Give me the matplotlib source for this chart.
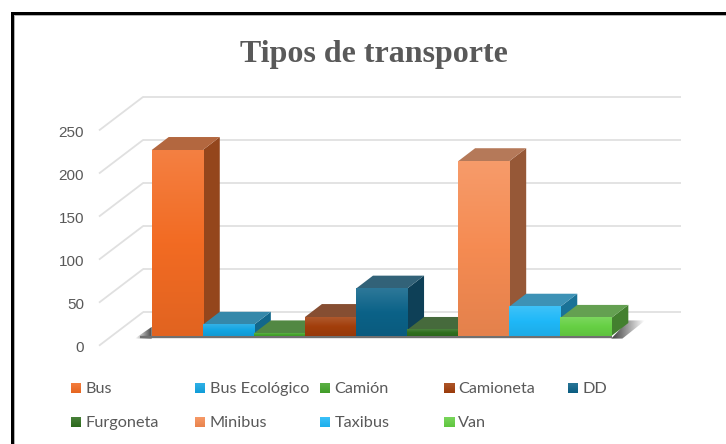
import numpy as np
import matplotlib
matplotlib.use("Agg")
import matplotlib.pyplot as plt
from matplotlib.patches import Polygon, Rectangle
from matplotlib.colors import LinearSegmentedColormap, to_rgb

categories = ["Bus", "Bus Ecológico", "Camión", "Camioneta", "DD",
              "Furgoneta", "Minibus", "Taxibus", "Van"]
values = [216, 13, 3, 22, 55, 7, 203, 34, 21]
colors = ["#F26B23", "#12A5E3", "#45A52B", "#A23E0B", "#0B6288",
          "#2F6F1E", "#F58B52", "#1FB8F8", "#66D044"]
yticks = [0, 50, 100, 150, 200, 250]
title = "Tipos de transporte"

W, H = 726, 444
PX_X = 51.07
PX_Y = 0.861
LEFT = 151.7
BASE = 336.0
DX = 17.0 / PX_X
DY = 13.0 / PX_Y


def shade(c, f):
    r = np.array(to_rgb(c))
    return tuple(np.clip(r * f, 0, 1)) if f <= 1 else tuple(np.clip(r + (1 - r) * (f - 1), 0, 1))


def mix(c, a, b):
    return tuple(np.clip(np.array(to_rgb(c)) * a + b, 0, 1))


fig = plt.figure(figsize=(W / 100, H / 100), dpi=100)
ax = fig.add_axes([0, 0, 1, 1])
XLIM = (-(LEFT + PX_X / 2) / PX_X, (W - LEFT - PX_X / 2) / PX_X)
YLIM = ((BASE - H) / PX_Y, BASE / PX_Y)
ax.axis("off")

x2d = lambda p: (p - LEFT - PX_X / 2) / PX_X
y2d = lambda p: (BASE - p) / PX_Y

# frame: only top and left edges are visible
for (x0, y0, w, h, col) in [(14, 15, W - 14, 1.2, "#B0B0B0"), (14, 15, 1.2, H - 15, "#B0B0B0"),
                            (11, 12, W - 11, 3, "black"), (11, 12, 3, H - 12, "black")]:
    fig.add_artist(Rectangle((x0 / W, 1 - (y0 + h) / H), w / W, h / H,
                             transform=fig.transFigure, fc=col, ec="none"))

# walls / gridlines
bx0, bx1 = x2d(143.3), x2d(680.5)
fx = x2d(99)
back0 = y2d(312)
front0 = y2d(345.7)
for t in yticks:
    ax.plot([bx0, bx1], [back0 + t, back0 + t], color="#E0E0E0", lw=1.3, zorder=1,
            solid_capstyle="butt")
    ax.plot([fx, bx0], [front0 + t, back0 + t], color="#E0E0E0", lw=1.3, zorder=1,
            solid_capstyle="butt")
    ax.text(x2d(84), front0 + t - 1, str(t), ha="right", va="center_baseline",
            color="#595959", fontsize=11, family="Liberation Sans")

# floor shadow
n = len(values)
dark = np.zeros((2, 64, 4))
dark[..., :3] = 0.2


def faded(x0, x1, y0, y1, a0, a1, poly):
    img = dark.copy()
    img[..., 3] = np.linspace(a0, a1, 64)
    im = ax.imshow(img, extent=(x0, x1, y0, y1), aspect="auto", zorder=2,
                   interpolation="bilinear")
    p = Polygon(poly, transform=ax.transData, fc="none", ec="none")
    ax.add_patch(p)
    im.set_clip_path(p)


ledge = -0.5
redge = n - 0.5
lfar = ledge - 17 / PX_X
faded(lfar, ledge, -3, DY * .7, 0, .9,
      [(lfar, -3), (ledge, DY * .7), (ledge, -3)])
faded(redge, redge + 2 * DX, -3, DY * 1.2, .95, 0,
      [(redge, -3), (redge + DX, DY * 1.2), (redge + 2 * DX, DY * 1.2), (redge + .65 * DX, -3)])
ax.plot([lfar + .1, redge + .02], [-1.7, -1.7], color="#707070", lw=1.7, zorder=2,
        solid_capstyle="butt")

# bars
for i, (v, c) in enumerate(zip(values, colors)):
    z = 3 + i
    l, r = i - .5, i + .5
    ax.add_patch(Polygon([(r, 0), (r + DX, DY), (r + DX, v + DY), (r, v)],
                         fc=mix(c, .58, .03), ec="none", zorder=z))
    ax.add_patch(Polygon([(l, v), (l + DX, v + DY), (r + DX, v + DY), (r, v)],
                         fc=mix(c, .56, .17), ec="none", zorder=z))
    cmap = LinearSegmentedColormap.from_list("g", [shade(c, 0.93), c, shade(c, 1.14)])
    grad = np.linspace(0, 1, 128).reshape(-1, 1)
    ax.imshow(grad, origin="lower", extent=(l, r, 0, v), cmap=cmap, aspect="auto",
              interpolation="bilinear", zorder=z + .1)

# title
ax.text(x2d(374), y2d(54), title, ha="center", va="center", family="Liberation Serif",
        fontweight="bold", fontsize=23, color="#595959")

# legend
cols = [70.5, 195, 320, 443.5, 568]
rows = [388.5, 422.5]
for i, (name, c) in enumerate(zip(categories, colors)):
    row = rows[i // 5]
    col = cols[i % 5]
    cmap = LinearSegmentedColormap.from_list("l", [shade(c, .95), shade(c, 1.12)])
    ax.imshow(np.linspace(0, 1, 16).reshape(-1, 1), origin="lower",
              extent=(x2d(col), x2d(col + 10), y2d(row + 5), y2d(row - 5)),
              cmap=cmap, aspect="auto", zorder=5)
    ax.text(x2d(col + 14.5), y2d(row), name, ha="left", va="center", fontsize=11.7,
            color="#595959", family="Lato")

ax.set_xlim(*XLIM)
ax.set_ylim(*YLIM)
fig.savefig("out.png", dpi=100, facecolor="white")
